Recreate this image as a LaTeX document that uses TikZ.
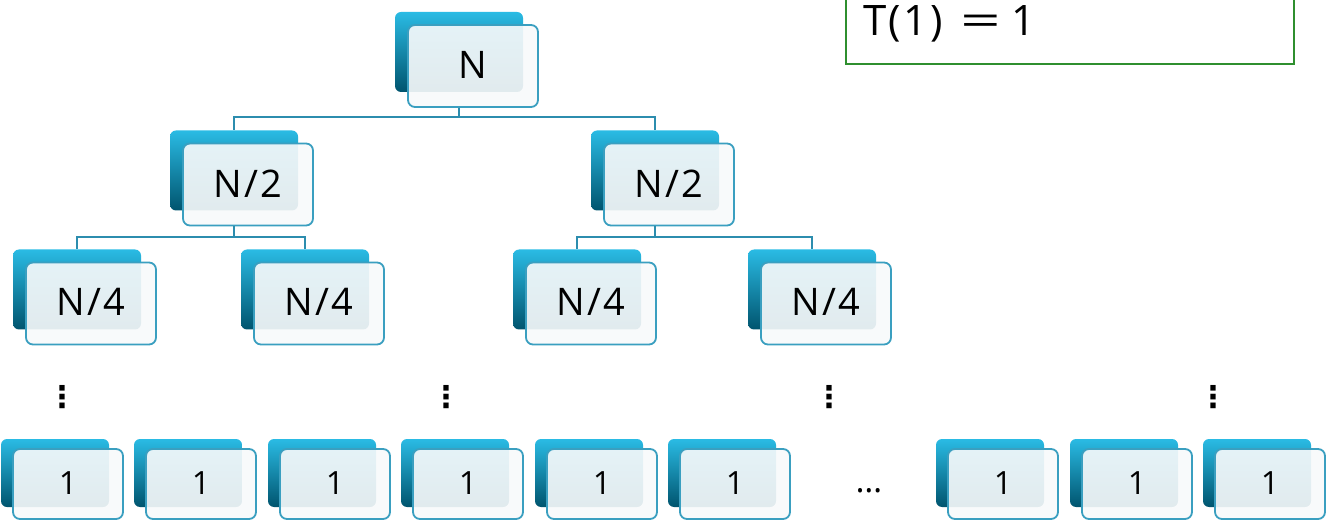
\documentclass[tikz,border=0pt]{standalone}
\usepackage{fontspec}
\setmainfont{Open Sans}[LetterSpace=6]
\newfontfamily\symfont{DejaVu Sans}
\usetikzlibrary{calc}
\definecolor{cardtop}{HTML}{2ABBE4}
\definecolor{cardbot}{HTML}{00546E}
\definecolor{frameblue}{HTML}{3A9FC0}
\definecolor{linkblue}{HTML}{2C8DAE}
\definecolor{boxgreen}{HTML}{2F8F2F}
\definecolor{facefill}{HTML}{F8FAFB}
\tikzset{
  backbig/.style={minimum width=128pt, minimum height=80pt, rounded corners=6pt,
    top color=cardtop, bottom color=cardbot, inner sep=0pt},
  frontbig/.style={minimum width=130pt, minimum height=82pt, rounded corners=7pt,
    draw=frameblue, line width=1.8pt, fill=facefill, fill opacity=0.91,
    text opacity=1, inner sep=0pt, font=\fontsize{38}{40}\selectfont},
  backsmall/.style={minimum width=108pt, minimum height=68pt, rounded corners=6pt,
    top color=cardtop, bottom color=cardbot, inner sep=0pt},
  frontsmall/.style={minimum width=110pt, minimum height=70pt, rounded corners=7pt,
    draw=frameblue, line width=1.8pt, fill=facefill, fill opacity=0.91,
    text opacity=1, inner sep=0pt, font=\fontsize{32}{34}\selectfont},
  link/.style={draw=linkblue, line width=1.6pt},
  vdotsnode/.style={font=\symfont\bfseries\fontsize{30}{30}\selectfont, inner sep=0pt},
}
\newcommand\bigcard[4]{%
  \node[backbig] (#1b) at (#2-14,#3-14) {};
  \node[frontbig] (#1) at (#2,#3) {\raisebox{2.5pt}{#4}};}
\newcommand\smallcard[2]{%
  \node[backsmall] (#1b) at (#2-13,484-11) {};
  \node[frontsmall] (#1) at (#2,484) {\raisebox{2.5pt}{1}};}
\begin{document}
\begin{tikzpicture}[x=1pt,y=-1pt]
\useasboundingbox (0,0) rectangle (1327,526);
\clip (0,0) rectangle (1327,526);
\fill[white] (0,0) rectangle (1327,526);

% level 0
\bigcard{n0}{473}{66}{N}
% level 1
\bigcard{l1}{248}{184.5}{N/2}
\bigcard{r1}{669}{184.5}{N/2}
% level 2
\bigcard{ll}{91}{303.5}{N/4}
\bigcard{lr}{319}{303.5}{N/4}
\bigcard{rl}{591}{303.5}{N/4}
\bigcard{rr}{826}{303.5}{N/4}

% connectors
\coordinate (bus0) at (0,117);
\coordinate (bus1) at (0,237);
\draw[link] (n0b |- n0.south) -- (n0b |- bus0) -| (l1b.north);
\draw[link] (n0b |- bus0) -| (r1b.north);
\draw[link] (l1b |- l1.south) -- (l1b |- bus1) -| (llb.north);
\draw[link] (l1b |- bus1) -| (lrb.north);
\draw[link] (r1b |- r1.south) -- (r1b |- bus1) -| (rlb.north);
\draw[link] (r1b |- bus1) -| (rrb.north);

% bottom level
\smallcard{a1}{68}
\smallcard{a2}{201}
\smallcard{a3}{335}
\smallcard{a4}{468}
\smallcard{a5}{602}
\smallcard{a6}{735}
\smallcard{a7}{1003}
\smallcard{a8}{1137}
\smallcard{a9}{1270}

% ellipses
\node[vdotsnode] (d1) at (62,397) {⋮};
\node[vdotsnode] (d2) at (446,397) {⋮};
\node[vdotsnode] (d3) at (829,397) {⋮};
\node[vdotsnode] (d4) at (1213,397) {⋮};
\node[font=\fontsize{34}{34}\selectfont, inner sep=0pt] (hd) at (869,491) {…};

% base case box
\node[draw=boxgreen, line width=1.4pt, minimum width=448pt, minimum height=90pt,
  text width=414pt, align=left, inner xsep=17pt, inner ysep=0pt,
  font=\fontsize{42}{44}\selectfont] (base) at (1070,19)
  {\raisebox{-17pt}[0pt][0pt]{T(1)\hspace{18pt}\scalebox{1.7}[1]{=}\hspace{10pt}1}};
\end{tikzpicture}
\end{document}
